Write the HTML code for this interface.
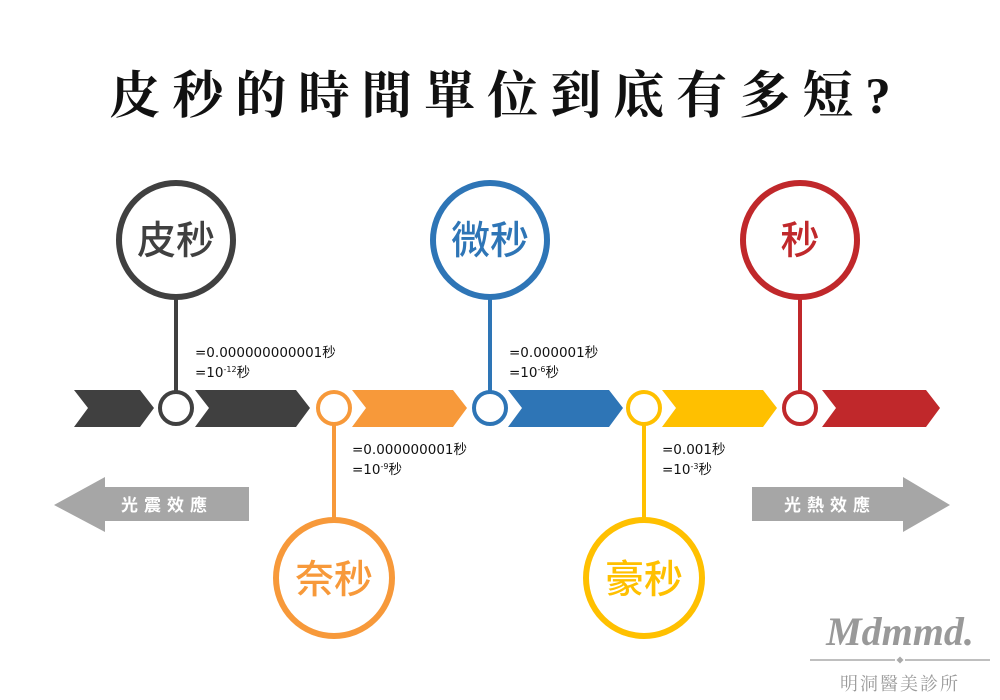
<!DOCTYPE html>
<html><head><meta charset="utf-8"><style>
html,body{margin:0;padding:0;background:#fff;}
svg{display:block}
</style></head><body>
<svg width="1000" height="700" viewBox="0 0 1000 700" xmlns="http://www.w3.org/2000/svg">
<rect width="1000" height="700" fill="#fff"/>
<text x="506" y="113" text-anchor="middle" font-family="'Liberation Serif','Noto Serif CJK SC',serif" font-size="51" font-weight="bold" letter-spacing="12" fill="#111">皮秒的時間單位到底有多短?</text>

<!-- chevrons -->
<polygon points="74,390 140,390 154,408 140,427 74,427 88,408" fill="#404040"/>
<polygon points="195,390 296,390 310,408 296,427 195,427 209,408" fill="#404040"/>
<polygon points="352,390 453,390 467,408 453,427 352,427 366,408" fill="#f7993a"/>
<polygon points="508,390 609,390 623,408 609,427 508,427 522,408" fill="#2e75b6"/>
<polygon points="662,390 763,390 777,408 763,427 662,427 676,408" fill="#ffc000"/>
<polygon points="822,390 926,390 940,408 926,427 822,427 836,408" fill="#c0282b"/>

<g fill="none" stroke-width="6">
<circle cx="176" cy="240" r="57" stroke="#404040"/>
<circle cx="490" cy="240" r="57" stroke="#2e75b6"/>
<circle cx="800" cy="240" r="57" stroke="#c0282b"/>
<circle cx="334" cy="578" r="58" stroke="#f7993a"/>
<circle cx="644" cy="578" r="58" stroke="#ffc000"/>
</g>
<g stroke-width="4">
<line x1="176" y1="298" x2="176" y2="392" stroke="#404040"/>
<line x1="490" y1="298" x2="490" y2="392" stroke="#2e75b6"/>
<line x1="800" y1="298" x2="800" y2="392" stroke="#c0282b"/>
<line x1="334" y1="424" x2="334" y2="520" stroke="#f7993a"/>
<line x1="644" y1="424" x2="644" y2="520" stroke="#ffc000"/>
</g>
<g fill="#fff" stroke-width="4">
<circle cx="176" cy="408" r="16" stroke="#404040"/>
<circle cx="334" cy="408" r="16" stroke="#f7993a"/>
<circle cx="490" cy="408" r="16" stroke="#2e75b6"/>
<circle cx="644" cy="408" r="16" stroke="#ffc000"/>
<circle cx="800" cy="408" r="16" stroke="#c0282b"/>
</g>

<g font-family="'Liberation Sans','Noto Sans CJK TC',sans-serif" font-size="39" font-weight="500" text-anchor="middle">
<text x="176" y="254" fill="#404040">皮秒</text>
<text x="490" y="254" fill="#2e75b6">微秒</text>
<text x="800" y="254" fill="#c0282b">秒</text>
<text x="334" y="593" fill="#f7993a">奈秒</text>
<text x="644" y="593" fill="#ffc000">豪秒</text>
</g>

<g font-family="'DejaVu Sans','Noto Sans CJK TC',sans-serif" font-size="13.5" fill="#111">
<text x="195" y="357">=0.000000000001秒</text>
<text x="195" y="377">=10<tspan font-size="8" dy="-5">-12</tspan><tspan dy="5">秒</tspan></text>
<text x="509" y="357">=0.000001秒</text>
<text x="509" y="377">=10<tspan font-size="8" dy="-5">-6</tspan><tspan dy="5">秒</tspan></text>
<text x="352" y="454">=0.000000001秒</text>
<text x="352" y="474">=10<tspan font-size="8" dy="-5">-9</tspan><tspan dy="5">秒</tspan></text>
<text x="662" y="454">=0.001秒</text>
<text x="662" y="474">=10<tspan font-size="8" dy="-5">-3</tspan><tspan dy="5">秒</tspan></text>
</g>

<polygon points="54,505 105,477 105,487 249,487 249,521 105,521 105,532" fill="#a6a6a6"/>
<polygon points="752,487 903,487 903,477 950,505 903,532 903,521 752,521" fill="#a6a6a6"/>
<g font-family="'Liberation Sans','Noto Sans CJK TC',sans-serif" font-size="17" font-weight="bold" fill="#fff" letter-spacing="6">
<text x="121" y="511">光震效應</text>
<text x="784" y="511">光熱效應</text>
</g>

<text x="900" y="645" text-anchor="middle" font-family="'Liberation Serif',serif" font-style="italic" font-weight="bold" font-size="40" fill="#999">Mdmmd.</text>
<line x1="810" y1="660" x2="895" y2="660" stroke="#aaa" stroke-width="1.5"/>
<line x1="905" y1="660" x2="990" y2="660" stroke="#aaa" stroke-width="1.5"/>
<rect x="897.5" y="657.5" width="5" height="5" fill="#aaa" transform="rotate(45 900 660)"/>
<text x="900" y="690" text-anchor="middle" font-family="'Noto Serif CJK SC',serif" font-size="18" fill="#999" letter-spacing="2">明洞醫美診所</text>
</svg>
</body></html>
